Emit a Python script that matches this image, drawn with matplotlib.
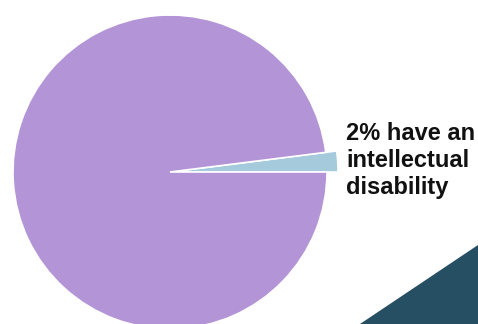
import matplotlib
matplotlib.use("Agg")
from matplotlib import pyplot as plt
from matplotlib.patches import Polygon

# share of people, percent
labels = ["Intellectual disability", "No intellectual disability"]
shares = [2, 98]
colors = ["#A5CADB", "#B394D7"]
note = "2% have an\nintellectual\ndisability"

W, H = 478, 324
fig = plt.figure(figsize=(W / 100, H / 100), dpi=100)
ax = fig.add_axes((0, 0, 1, 1))

wedges, _ = ax.pie(
    shares, colors=colors, startangle=0, counterclock=True,
    center=(170, 152), radius=157,
    wedgeprops=dict(edgecolor="white", linewidth=1.2),
)
# the small slice sticks out a bit past the rim
wedges[0].set_radius(168)

# dark corner accent
ax.add_patch(Polygon([(360, 0), (W, 79), (W, 0)], closed=True,
                     facecolor="#264F63", edgecolor="none"))

ax.text(346, 202, note, ha="left", va="top", fontsize=17,
        fontweight="bold", family=["Liberation Sans", "DejaVu Sans"],
        linespacing=1.22, color="#111111")

ax.set_xlim(0, W)
ax.set_ylim(0, H)
ax.set_aspect("equal")
ax.axis("off")

fig.savefig("out.png", dpi=100)
